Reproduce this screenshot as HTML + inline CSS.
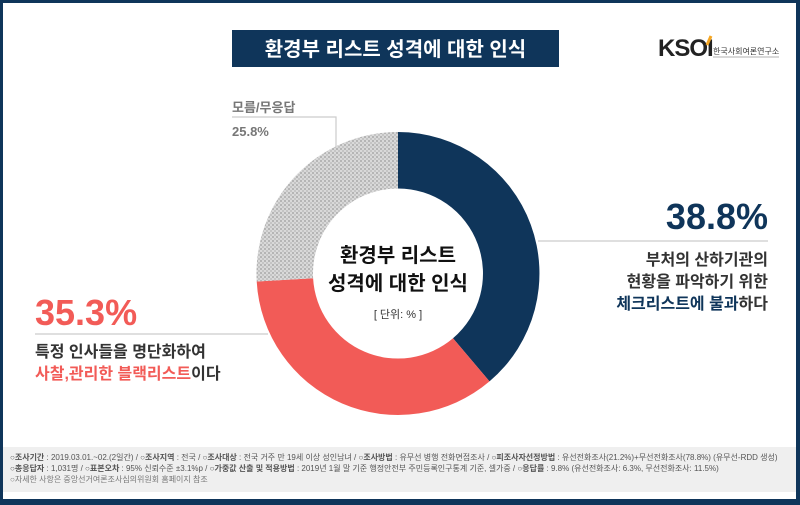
<!DOCTYPE html>
<html><head><meta charset="utf-8"><style>
body{margin:0;width:800px;height:505px;overflow:hidden;background:#fff;font-family:"Liberation Sans","Noto Sans CJK KR",sans-serif}
</style></head><body>
<svg width="800" height="505" xmlns="http://www.w3.org/2000/svg" style="position:absolute;left:0;top:0;font-family:'Liberation Sans','Noto Sans CJK KR',sans-serif">
<defs><pattern id="hp" width="4" height="4" patternUnits="userSpaceOnUse">
<rect width="4" height="4" fill="#d9d9d9"/><rect width="2" height="2" fill="#b5b5b5"/><rect x="2" y="2" width="2" height="2" fill="#c4c4c4"/></pattern></defs>
<rect x="0" y="0" width="800" height="505" fill="#0f355a"/>
<rect x="3" y="3" width="793" height="496" fill="#fff"/>
<rect x="3" y="447" width="793" height="45" fill="#efefef"/>
<rect x="232" y="30" width="327" height="37" fill="#0f355a"/>
<text x="395.5" y="56" fill="#fff" font-size="20" font-weight="bold" text-anchor="middle">환경부 리스트 성격에 대한 인식</text>
<text x="658" y="56" font-size="24" font-weight="bold" fill="#222" letter-spacing="-1">KSOI</text>
<path d="M711 36 l-4 9" stroke="#f5a623" stroke-width="3"/>
<text x="713" y="54" font-size="8" fill="#333">한국사회여론연구소</text>
<line x1="713" y1="57" x2="779" y2="57" stroke="#999" stroke-width="0.7"/>
<polyline points="232,117 336,117 336,148" fill="none" stroke="#ccc" stroke-width="1.2"/>
<line x1="538" y1="241" x2="768" y2="241" stroke="#ccc" stroke-width="1.2"/>
<line x1="35" y1="334" x2="268" y2="334" stroke="#ccc" stroke-width="1.2"/>
<path d="M398 132 A141.5 141.5 0 0 1 489.5 381.4 L453 338.3 A85 85 0 0 0 398 188.5 Z" fill="#0f355a"/>
<path d="M489.5 381.4 A141.5 141.5 0 0 1 256.7 281.5 L313.1 278.3 A85 85 0 0 0 453 338.3 Z" fill="#f25b57"/>
<path d="M256.7 281.5 A141.5 141.5 0 0 1 398 132 L398 188.5 A85 85 0 0 0 313.1 278.3 Z" fill="url(#hp)"/>
<text x="398" y="262" font-size="20" font-weight="bold" fill="#111" text-anchor="middle">환경부 리스트</text>
<text x="398" y="290" font-size="20" font-weight="bold" fill="#111" text-anchor="middle">성격에 대한 인식</text>
<text x="398" y="318" font-size="11" fill="#333" text-anchor="middle">[ 단위: % ]</text>
<text x="232" y="112" font-size="13" fill="#777" font-weight="bold">모름/무응답</text>
<text x="232" y="136" font-size="13" fill="#777" font-weight="bold">25.8%</text>
<text x="768" y="229" font-size="36" font-weight="bold" fill="#0f355a" text-anchor="end">38.8%</text>
<text x="768" y="265" font-size="16" font-weight="bold" fill="#333" text-anchor="end">부처의 산하기관의</text>
<text x="768" y="287" font-size="16" font-weight="bold" fill="#333" text-anchor="end">현황을 파악하기 위한</text>
<text x="768" y="309" font-size="16" font-weight="bold" fill="#333" text-anchor="end"><tspan fill="#0f355a">체크리스트에 불과</tspan>하다</text>
<text x="35" y="325" font-size="36" font-weight="bold" fill="#f25b57">35.3%</text>
<text x="35" y="357" font-size="16" font-weight="bold" fill="#333">특정 인사들을 명단화하여</text>
<text x="35" y="379" font-size="16" font-weight="bold" fill="#333"><tspan fill="#f25b57">사찰,관리한 블랙리스트</tspan>이다</text>
<g font-size="8" fill="#555">
<text x="10" y="460">○<tspan font-weight="bold">조사기간</tspan> : 2019.03.01.~02.(2일간) / ○<tspan font-weight="bold">조사지역</tspan> : 전국 / ○<tspan font-weight="bold">조사대상</tspan> : 전국 거주 만 19세 이상 성인남녀 / ○<tspan font-weight="bold">조사방법</tspan> : 유무선 병행 전화면접조사 / ○<tspan font-weight="bold">피조사자선정방법</tspan> : 유선전화조사(21.2%)+무선전화조사(78.8%) (유무선-RDD 생성)</text>
<text x="10" y="471">○<tspan font-weight="bold">총응답자</tspan> : 1,031명 / ○<tspan font-weight="bold">표본오차</tspan> : 95% 신뢰수준 ±3.1%p / ○<tspan font-weight="bold">가중값 산출 및 적용방법</tspan> : 2019년 1월 말 기준 행정안전부 주민등록인구통계 기준, 셀가중 / ○<tspan font-weight="bold">응답률</tspan> : 9.8% (유선전화조사: 6.3%, 무선전화조사: 11.5%)</text>
<text x="10" y="482" fill="#777">○자세한 사항은 중앙선거여론조사심의위원회 홈페이지 참조</text>
</g>
</svg>
</body></html>
